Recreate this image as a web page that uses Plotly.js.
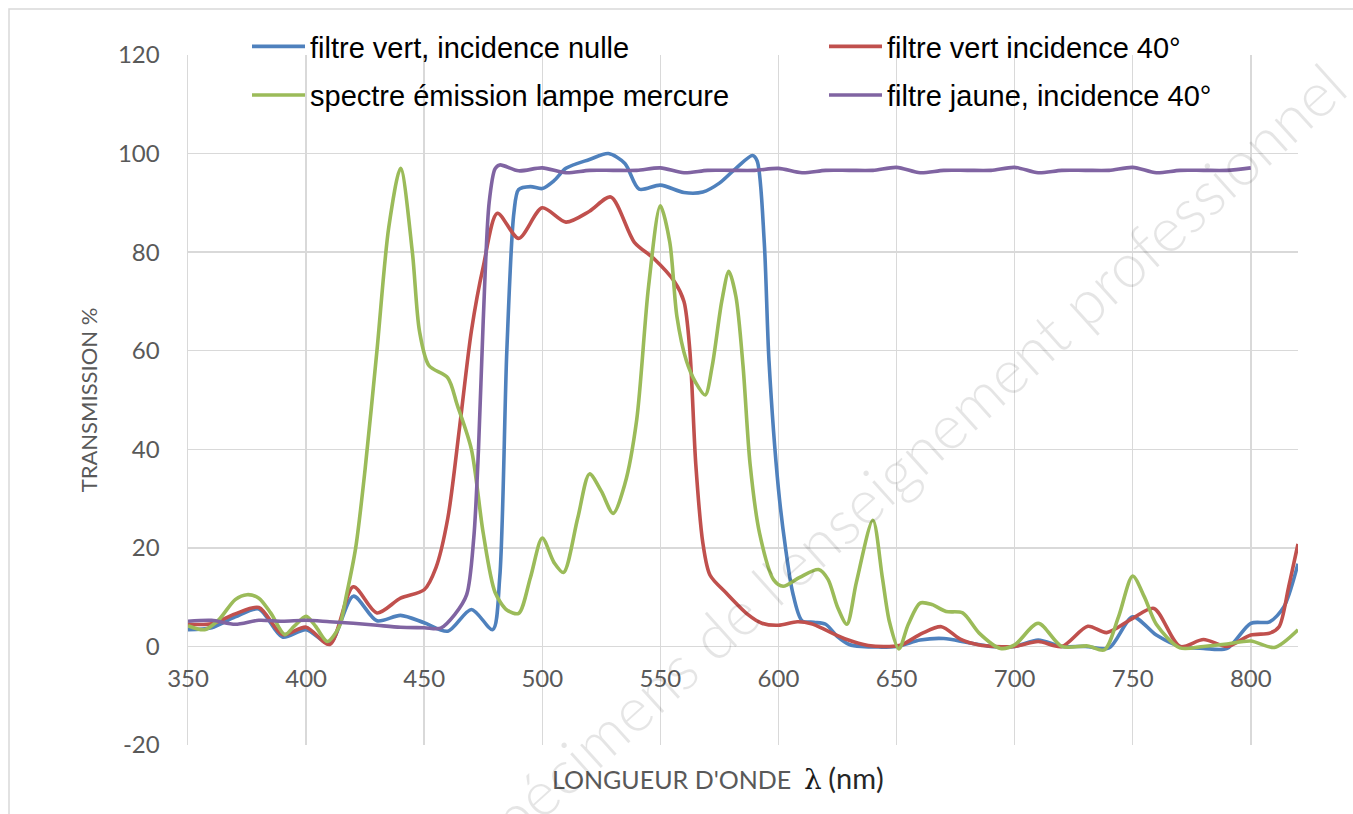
<!DOCTYPE html>
<html>
<head>
<meta charset="utf-8">
<script src="https://cdn.plot.ly/plotly-3.0.1.min.js"></script>
<style>html,body{margin:0;padding:0;background:#fff;}#chart{width:1353px;height:814px;}</style>
</head>
<body>
<div id="chart"></div>
<script>
// ---- Data ----
const seriesNames = [
  "filtre vert, incidence nulle",
  "filtre vert incidence 40°",
  "spectre émission lampe mercure",
  "filtre jaune, incidence 40°"
];
const seriesColors = ["#4F81BD", "#C0504D", "#9BBB59", "#8064A2"];

// filtre vert, incidence nulle
const wlBlue = [350,360,370,380,390,400,410,420,430,440,450,460,470,479,482,485,488,490,495,500,505,510,520,528,535,541,550,560,568,575,582,589,591,594,596,600,603,606,610,615,620,625,630,635,650,660,670,680,690,700,710,720,730,740,750,760,770,780,790,800,808,814,820];
const trBlue = [3.4,3.8,6.0,7.6,1.9,3.4,0.6,10.2,5.2,6.3,4.8,3.1,7.5,3.4,14,60,88,92.7,93.3,92.9,94.5,97,98.8,100,98,92.8,93.6,92.1,92.2,94,97,99.6,98.5,82,58,32,20,11,5.2,4.9,4.5,2,0.4,0,0,1.3,1.6,0.8,0,0,1.3,0,0,-0.3,6,2.3,0,-0.4,-0.4,4.7,5,8,16.8];

// filtre vert incidence 40°
const wlRed = [350,360,370,380,390,400,410,420,430,440,450,455,460,465,470,475,481,490,500,510,520,529,539,547,556,560,562.5,565,568,571,578,587,593,600,608,614,621,629,638,647,652,661,669,677,685,692,700,710,720,731,739,750,759,770,780,790,800,808,812,816,820];
const trRed = [4.5,4.6,6.6,7.9,2.4,3.9,0.4,12.1,6.8,9.8,11.5,16,26,44.5,64,77,87.9,82.8,89,86.1,88.3,91.2,82,78.8,74,70,60,37,21,14.5,10.8,6.5,4.7,4.3,5.0,4.6,3.1,1.4,0.2,0,0.3,2.7,4.0,1.5,0.3,0,0,1,0,4.1,2.8,5.7,7.7,0,1.4,0,2.3,2.7,4,12,20.8];

// spectre émission lampe mercure
const wlGreen = [350,357,363,370,375,380,385,391,395,400,404,409,414,417,421,425,430,435,440,445,448,452,460,464,470,475,480,485,490,495,500,505,509,515,520,525,530,535,540,545,550,554,557,561,565,569,572,576,579,582,585,588,592,598,602,609,617,621,625,629,633,640,644,647,651,655,660,665,671,678,685,694,700,710,720,731,738,744,750,755,760,770,780,790,800,810,820];
const trGreen = [4.2,3.4,5.4,9.5,10.5,9.8,6.8,2.4,4.1,6.1,4.1,1,4,10.2,20,36,60,85,97,80,64,57,54.5,49,40,23,11,7.4,6.7,14,22,17,15,26,35,31.5,27,33,46,73,89.4,82,67,58,53.5,51,57,70,76.1,71,57,37,23,13.5,12.2,14,15.6,13.6,8,4.5,13,25.6,14,5,-0.5,4.5,8.8,8.5,7.1,6.8,2.7,-0.4,0.3,4.7,0,0.1,-0.7,6,14.3,10,4.5,-0.3,0,0.5,1.1,-0.2,3.4];

// filtre jaune, incidence 40°
const wlPurple = [350,360,370,380,390,400,410,420,430,440,450,457,463,468,471,473,475,477.5,480,482,490,500,510,520,530,540,550,560,570,580,590,600,610,620,630,640,650,660,670,680,690,700,710,720,730,740,750,760,770,780,790,800];
const trPurple = [5.1,5.3,4.5,5.3,5.1,5.3,5.0,4.7,4.3,3.9,3.8,3.7,6.5,10.5,22,40,66,90,96.9,97.7,96.5,97.1,96.1,96.6,96.6,96.6,97.1,96.1,96.6,96.6,96.6,97.0,96.1,96.6,96.6,96.6,97.2,96.1,96.6,96.6,96.6,97.2,96.1,96.6,96.6,96.6,97.2,96.1,96.6,96.6,96.6,97.1];

const xTicks = [350,400,450,500,550,600,650,700,750,800];
const yTicks = [-20,0,20,40,60,80,100,120];
const xTitleMain = "LONGUEUR D'ONDE";
const xTitleSymbol = "λ";
const xTitleUnit = "(nm)";
const yTitle = "TRANSMISSION %";
const watermark = "Spécimens de l'enseignement professionnel";

// ---- Build traces ----
const wls = [wlBlue, wlRed, wlGreen, wlPurple];
const trs = [trBlue, trRed, trGreen, trPurple];
const legendOf = ["legend", "legend2", "legend", "legend2"];
const traces = seriesNames.map((n, i) => ({
  type: "scatter",
  mode: "lines",
  name: n,
  x: wls[i],
  y: trs[i],
  line: {color: seriesColors[i], width: 3.6, shape: "spline", smoothing: 0.8},
  legend: legendOf[i],
  legendgroup: "g" + i,
  hoverinfo: "x+y+name"
}));

const L = 188, R = 55, T = 55, B = 69, W = 1353, H = 814;
const pw = W - L - R, ph = H - T - B;
const px = v => (v - L) / pw;          // pixel -> paper x
const py = v => (H - B - v) / ph;      // pixel -> paper y

const tickFont = {family: "Lato, 'Open Sans', sans-serif", size: 24, color: "#595959"};
const legendFont = {family: "'Liberation Sans', Arial, sans-serif", size: 29, color: "#000000"};

const layout = {
  width: W, height: H,
  margin: {l: L, r: R, t: T, b: B},
  paper_bgcolor: "#ffffff",
  plot_bgcolor: "#ffffff",
  showlegend: true,
  xaxis: {
    range: [350, 820],
    tickmode: "array",
    tickvals: xTicks,
    ticktext: xTicks.map(String),
    showgrid: true,
    gridcolor: "#d9d9d9",
    gridwidth: 1.5,
    zeroline: false,
    showline: false,
    ticks: "",
    anchor: "free",
    position: (0 - (-20)) / 140,
    ticklabelstandoff: 16,
    tickfont: tickFont,
    fixedrange: true
  },
  yaxis: {
    range: [-20, 120],
    tickmode: "array",
    tickvals: yTicks,
    ticktext: yTicks.map(String),
    showgrid: true,
    gridcolor: "#d9d9d9",
    gridwidth: 1.5,
    zeroline: false,
    showline: true,
    linecolor: "#d9d9d9",
    linewidth: 1.5,
    ticks: "",
    ticklabelstandoff: 22,
    tickfont: tickFont,
    title: {text: yTitle, font: {family: "Lato, 'Open Sans', sans-serif", size: 22, color: "#595959"}, standoff: 14},
    fixedrange: true
  },
  legend: {
    x: px(247), y: py(21), xanchor: "left", yanchor: "top",
    orientation: "v", bgcolor: "rgba(0,0,0,0)", borderwidth: 0,
    font: legendFont, tracegroupgap: 8, traceorder: "grouped", itemwidth: 53
  },
  legend2: {
    x: px(824), y: py(21), xanchor: "left", yanchor: "top",
    orientation: "v", bgcolor: "rgba(0,0,0,0)", borderwidth: 0,
    font: legendFont, tracegroupgap: 8, traceorder: "grouped", itemwidth: 53
  },
  annotations: [
    {
      xref: "paper", yref: "paper", x: px(718), y: py(778), xanchor: "center", yanchor: "middle",
      showarrow: false,
      text: xTitleMain + "  <span style='color:#1a1a1a;font-family:DejaVu Serif;font-size:28px'>" + xTitleSymbol + "</span> <span style='color:#262626;font-size:29px'>" + xTitleUnit + "</span>",
      font: {family: "Lato, 'Open Sans', sans-serif", size: 25, color: "#595959"}
    },
    {
      xref: "paper", yref: "paper", x: px(905), y: py(462), xanchor: "center", yanchor: "middle",
      showarrow: false, textangle: -42,
      text: watermark,
      font: {family: "Lato, 'Liberation Sans', sans-serif", size: 62, weight: 300, color: "rgba(0,0,0,0.1)"}
    }
  ],
  shapes: [
    {type: "rect", xref: "paper", yref: "paper", x0: px(9), x1: px(1370), y0: py(830), y1: py(9),
     line: {color: "#d9d9d9", width: 1.5}, fillcolor: "rgba(0,0,0,0)", layer: "below"}
  ]
};

Plotly.newPlot("chart", traces, layout, {displayModeBar: false, staticPlot: true});
</script>
</body>
</html>
